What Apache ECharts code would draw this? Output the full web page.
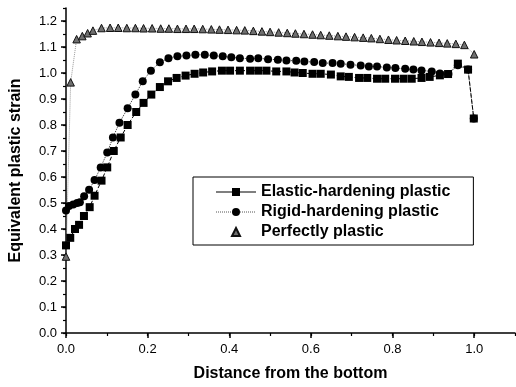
<!DOCTYPE html>
<html>
<head>
<meta charset="utf-8">
<script src="https://cdn.jsdelivr.net/npm/echarts@6/dist/echarts.min.js"></script>
<style>
html,body{margin:0;padding:0;background:#fff;}
#c{width:516px;height:387px;}
</style>
</head>
<body>
<div id="c"></div>
<script>
// Elastic-hardening plastic (squares)
var elasticX = [0, 0.0104, 0.022, 0.032, 0.044, 0.058, 0.070, 0.087, 0.101, 0.117, 0.134, 0.151, 0.172, 0.190, 0.209, 0.230, 0.250, 0.271, 0.293, 0.315, 0.336, 0.358, 0.382, 0.402, 0.426, 0.451, 0.471, 0.491, 0.515, 0.540, 0.560, 0.580, 0.604, 0.624, 0.649, 0.673, 0.693, 0.718, 0.738, 0.762, 0.782, 0.806, 0.827, 0.847, 0.871, 0.891, 0.916, 0.936, 0.960, 0.985, 0.999];
var elasticY = [0.337, 0.366, 0.400, 0.416, 0.450, 0.484, 0.528, 0.586, 0.637, 0.700, 0.752, 0.800, 0.850, 0.885, 0.917, 0.946, 0.968, 0.981, 0.990, 0.997, 1.002, 1.006, 1.009, 1.009, 1.009, 1.009, 1.009, 1.009, 1.006, 1.006, 1.002, 1.000, 0.997, 0.997, 0.994, 0.987, 0.985, 0.981, 0.981, 0.978, 0.978, 0.978, 0.978, 0.978, 0.981, 0.985, 0.991, 0.996, 1.036, 1.013, 0.825];
// Rigid-hardening plastic (circles)
var rigidX = [0, 0.0073, 0.0177, 0.0274, 0.034, 0.0444, 0.0566, 0.070, 0.085, 0.101, 0.115, 0.131, 0.151, 0.170, 0.188, 0.208, 0.230, 0.251, 0.273, 0.295, 0.317, 0.340, 0.362, 0.384, 0.405, 0.426, 0.451, 0.471, 0.495, 0.519, 0.540, 0.564, 0.584, 0.608, 0.629, 0.653, 0.673, 0.697, 0.722, 0.742, 0.762, 0.786, 0.807, 0.831, 0.851, 0.871, 0.896, 0.916, 0.937, 0.960, 0.985, 0.999];
var rigidY = [0.471, 0.488, 0.494, 0.500, 0.503, 0.526, 0.551, 0.588, 0.637, 0.694, 0.752, 0.809, 0.864, 0.917, 0.968, 1.009, 1.041, 1.057, 1.064, 1.067, 1.070, 1.070, 1.067, 1.064, 1.061, 1.057, 1.055, 1.057, 1.053, 1.051, 1.048, 1.047, 1.044, 1.042, 1.038, 1.038, 1.036, 1.032, 1.029, 1.025, 1.025, 1.021, 1.019, 1.016, 1.013, 1.010, 1.006, 0.998, 0.996, 1.030, 1.013, 0.825];
// Perfectly plastic (triangles)
var perfectX = [0, 0.0114, 0.026, 0.040, 0.053, 0.066, 0.087, 0.108, 0.128, 0.149, 0.170, 0.190, 0.211, 0.232, 0.252, 0.273, 0.294, 0.314, 0.335, 0.356, 0.376, 0.397, 0.418, 0.438, 0.459, 0.480, 0.500, 0.521, 0.542, 0.562, 0.583, 0.604, 0.624, 0.645, 0.666, 0.686, 0.707, 0.728, 0.748, 0.769, 0.790, 0.810, 0.831, 0.852, 0.872, 0.893, 0.914, 0.934, 0.955, 0.976, 1.000];
var perfectY = [0.294, 0.964, 1.130, 1.142, 1.153, 1.163, 1.173, 1.174, 1.174, 1.173, 1.173, 1.172, 1.172, 1.171, 1.171, 1.170, 1.170, 1.170, 1.169, 1.168, 1.167, 1.166, 1.165, 1.164, 1.162, 1.160, 1.158, 1.156, 1.154, 1.152, 1.150, 1.148, 1.146, 1.144, 1.142, 1.140, 1.138, 1.136, 1.134, 1.131, 1.128, 1.126, 1.124, 1.122, 1.120, 1.118, 1.116, 1.114, 1.112, 1.108, 1.072];

var seriesNames = ['Elastic-hardening plastic', 'Rigid-hardening plastic', 'Perfectly plastic'];
var xTitle = 'Distance from the bottom';
var yTitle = 'Equivalent plastic strain';

function pairs(xs, ys) { return xs.map(function (x, i) { return [x, ys[i]]; }); }

var FONT = '"Liberation Sans", Arial, sans-serif';
var chart = echarts.init(document.getElementById('c'), null, {renderer: 'canvas'});
chart.setOption({
  animation: false,
  backgroundColor: '#fff',
  grid: {left: 61, right: 1, top: 8, bottom: 53, containLabel: false},
  xAxis: [{
    type: 'value', min: 0, max: 1.1, interval: 0.2,
    name: xTitle, nameLocation: 'middle', nameGap: 33,
    nameTextStyle: {fontFamily: FONT, fontWeight: 'bold', fontSize: 16, color: '#000'},
    axisLine: {lineStyle: {color: '#000', width: 1.5}},
    axisTick: {inside: false, length: 5, lineStyle: {color: '#000', width: 1.5}},
    axisLabel: {showMaxLabel: false, fontFamily: FONT, fontSize: 13, color: '#000', margin: 10,
      formatter: function (v) { return v.toFixed(1); }},
    splitLine: {show: false}
  }, {
    type: 'value', min: 0, max: 1.1, interval: 0.1, position: 'bottom',
    axisLine: {show: false},
    axisTick: {length: 3, lineStyle: {color: '#000', width: 1.2}},
    axisLabel: {show: false}, splitLine: {show: false}
  }],
  yAxis: [{
    type: 'value', min: 0, max: 1.25, interval: 0.1,
    name: yTitle, nameLocation: 'middle', nameGap: 42, nameRotate: 90,
    nameTextStyle: {fontFamily: FONT, fontWeight: 'bold', fontSize: 16, color: '#000'},
    axisLine: {lineStyle: {color: '#000', width: 1.5}},
    axisTick: {inside: false, length: 5, lineStyle: {color: '#000', width: 1.5}},
    axisLabel: {showMaxLabel: false, fontFamily: FONT, fontSize: 13, color: '#000', margin: 9,
      formatter: function (v) { return v.toFixed(1); }},
    splitLine: {show: false}
  }, {
    type: 'value', min: 0, max: 1.25, interval: 0.05, position: 'left',
    axisLine: {show: false},
    axisTick: {length: 3, lineStyle: {color: '#000', width: 1.2}},
    axisLabel: {show: false}, splitLine: {show: false}
  }],
  legend: {
    orient: 'vertical', left: 193, top: 177,
    padding: [7, 23, 5, 22],
    itemWidth: 40, itemHeight: 10, itemGap: 4,
    borderColor: '#000', borderWidth: 1, backgroundColor: '#fff',
    textStyle: {fontFamily: FONT, fontWeight: 'bold', fontSize: 16, color: '#000'},
    data: [
      {name: seriesNames[0], lineStyle: {type: 'solid', width: 1.2, color: '#000'}},
      {name: seriesNames[1], lineStyle: {type: 'dotted', width: 1, color: '#555'}},
      {name: seriesNames[2], lineStyle: {opacity: 0}}
    ]
  },
  series: [{
    name: seriesNames[0], type: 'line', data: pairs(elasticX, elasticY),
    symbol: 'rect', symbolSize: 8,
    itemStyle: {color: '#000'},
    lineStyle: {color: '#000', width: 1, type: 'dashed'},
    z: 3
  }, {
    name: seriesNames[1], type: 'line', data: pairs(rigidX, rigidY),
    symbol: 'circle', symbolSize: 8,
    itemStyle: {color: '#000'},
    lineStyle: {color: '#333', width: 1, type: 'dotted'},
    z: 2
  }, {
    name: seriesNames[2], type: 'line', data: pairs(perfectX, perfectY),
    symbol: 'triangle', symbolSize: 7.5,
    itemStyle: {color: '#6f6f6f', borderColor: '#111', borderWidth: 1},
    lineStyle: {color: '#999', width: 1, type: 'dotted'},
    z: 2
  }]
});
</script>
</body>
</html>
